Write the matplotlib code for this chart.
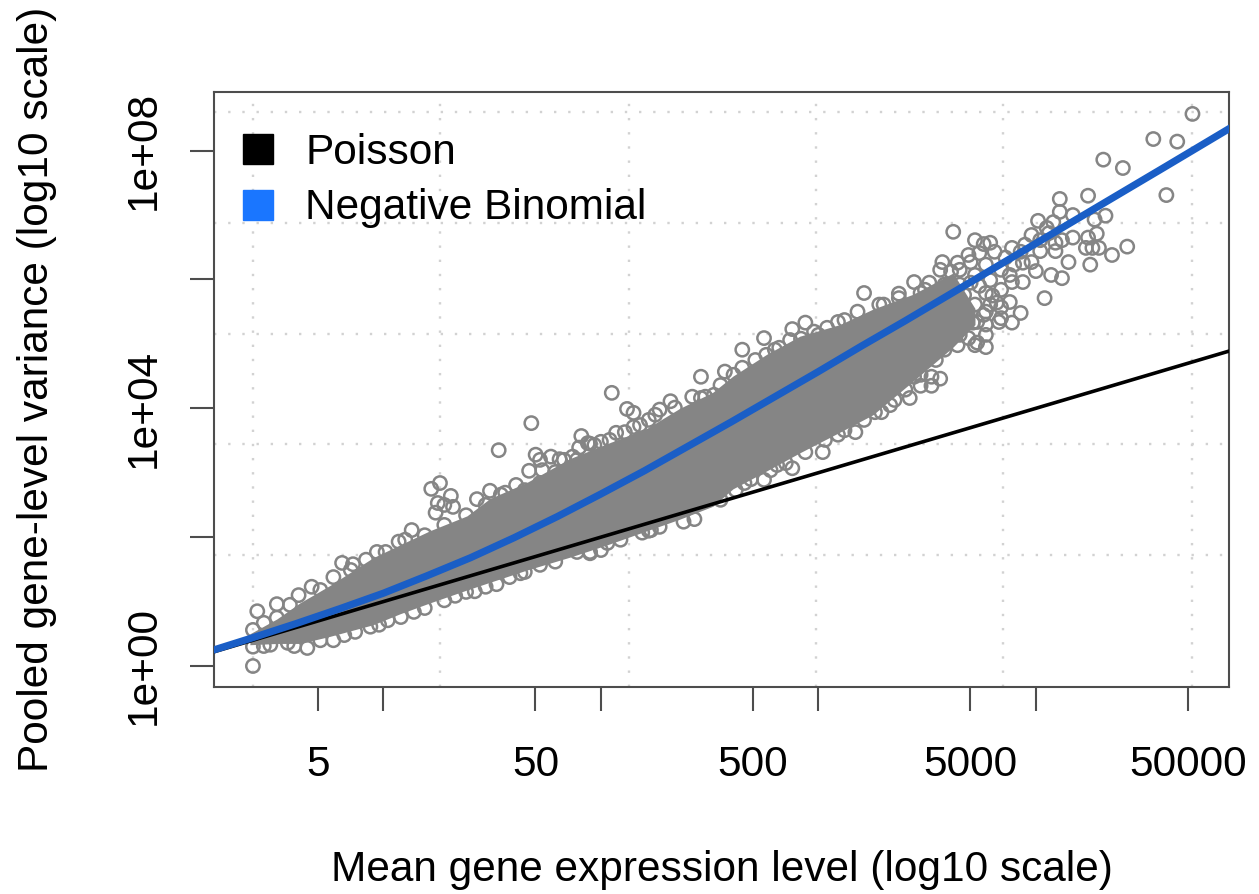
import numpy as np
import matplotlib
matplotlib.use("Agg")
import matplotlib.pyplot as plt
from matplotlib.lines import Line2D
from matplotlib.ticker import NullFormatter

plt.rcParams['font.family'] = ['Liberation Sans', 'DejaVu Sans']

# all values are log10 of the axis units
poisson_x = [0.22, 1.0, 2.0, 3.0, 4.0, 4.89]
poisson_y = [0.22, 1.0, 2.0, 3.0, 4.0, 4.89]

nb_x = [0.221, 0.4, 0.6, 0.8, 1.0, 1.2, 1.4, 1.6, 1.8, 2.0, 2.2, 2.4, 2.6, 2.8, 3.0, 3.2, 3.4, 3.6, 3.8, 4.0, 4.2, 4.4, 4.6, 4.888]
nb_y = [0.25, 0.44, 0.66, 0.89, 1.13, 1.40, 1.68, 1.99, 2.32, 2.67, 3.03, 3.41, 3.79, 4.18, 4.57, 4.97, 5.36, 5.76, 6.16, 6.56, 6.96, 7.36, 7.76, 8.34]

# solid part of the cloud, where the circles merge together
core_x = [0.386, 0.510, 0.616, 0.754, 0.952, 1.076, 1.214, 1.384, 1.490, 1.660, 1.858, 2.028, 2.212, 2.363, 2.515, 2.607, 2.763, 2.915, 3.099, 3.251, 3.435, 3.619, 3.72]
core_hi = [0.50, 0.73, 0.98, 1.25, 1.68, 1.88, 2.10, 2.33, 2.60, 2.85, 3.22, 3.45, 3.69, 4.00, 4.25, 4.50, 4.84, 5.12, 5.30, 5.54, 5.77, 6.10, 5.55]
core_lo = [0.33, 0.35, 0.35, 0.46, 0.64, 0.81, 0.98, 1.18, 1.30, 1.49, 1.69, 1.88, 2.10, 2.28, 2.48, 2.75, 3.03, 3.31, 3.63, 3.90, 4.42, 4.95, 5.30]

# single genes that can be told apart around the edge of the cloud
genes_x = [4.72, 4.54, 4.65, 4.31, 4.40, 4.60, 4.24, 4.11, 4.11, 4.17, 4.32, 4.27, 4.01, 3.62, 4.08, 3.98, 4.28, 4.17, 4.24, 4.42,
           4.35, 4.23, 4.29, 4.26, 4.02, 4.09, 4.15, 4.25, 3.94, 3.98, 4.00, 4.07, 4.12, 4.04, 3.93, 3.89, 3.83, 3.77, 3.77, 3.72,
           3.79, 3.76, 3.69, 3.89, 3.74, 3.57, 3.64, 3.94, 3.89, 3.84, 3.88, 3.77, 3.84, 3.71, 3.65, 3.61, 4.06, 4.12, 4.09, 4.05,
           3.21, 3.37, 3.44, 3.47, 3.28, 2.75, 2.65, 2.88, 2.94, 2.92, 3.00, 3.04, 3.09, 2.82, 2.76, 2.65, 2.61, 2.46, 2.48, 2.52,
           3.02, 2.88, 2.75, 2.69, 2.81, 3.21, 3.17, 3.09, 3.29, 3.42, 3.56, 3.52, 3.47, 3.52, 3.44, 3.35, 3.73, 3.69, 3.64, 3.73,
           3.68, 3.77, 3.82, 2.05, 1.68, 1.53, 2.12, 2.15, 2.22, 2.15, 2.32, 2.27, 2.42, 1.91, 1.95, 2.00, 2.07, 1.90, 1.70, 1.72,
           1.77, 1.81, 1.87, 1.67, 1.73, 1.61, 1.49, 1.43, 1.26, 1.22, 1.31, 1.32, 1.25, 1.24, 1.28, 1.13, 1.07, 1.56, 2.43, 2.38,
           2.22, 2.19, 2.03, 1.95, 1.89, 0.40, 0.42, 0.51, 0.40, 0.45, 0.61, 0.67, 0.40, 0.45, 0.56, 0.65, 0.77, 0.94, 1.02, 1.14,
           1.38, 1.42, 1.47, 1.52, 1.58, 1.65, 1.72, 1.95, 2.23, 0.77, 0.81, 0.86, 0.97, 0.51, 1.89, 1.94]
genes_y = [8.57, 8.18, 8.14, 7.86, 7.73, 7.31, 7.30, 7.25, 7.05, 7.00, 6.99, 6.93, 6.91, 6.74, 6.89, 6.69, 6.71, 6.65, 6.65, 6.51,
           6.38, 6.49, 6.49, 6.49, 6.44, 6.44, 6.27, 6.23, 6.26, 6.27, 6.13, 6.07, 6.02, 5.71, 5.48, 5.33, 5.34, 5.14, 4.95, 4.98,
           6.57, 6.55, 6.38, 6.49, 6.41, 6.27, 6.26, 5.96, 5.96, 5.84, 5.65, 5.79, 5.57, 5.33, 5.92, 6.12, 6.72, 6.61, 6.57, 6.80,
           5.79, 5.78, 5.96, 5.79, 5.61, 5.09, 4.91, 5.23, 5.33, 5.08, 5.14, 5.25, 5.34, 4.94, 4.83, 4.63, 4.52, 4.49, 4.18, 4.21,
           3.32, 3.07, 2.89, 2.90, 3.12, 3.82, 3.63, 3.59, 3.94, 4.16, 4.46, 4.35, 4.35, 4.49, 4.49, 4.13, 5.02, 5.09, 4.98, 5.34,
           5.33, 5.50, 5.64, 4.24, 3.77, 3.35, 3.99, 3.93, 3.82, 3.71, 4.11, 3.98, 4.18, 3.57, 3.45, 3.48, 3.62, 3.39, 3.28, 3.20,
           3.25, 3.21, 3.25, 3.03, 3.04, 2.81, 2.72, 2.59, 2.84, 2.75, 2.64, 2.47, 2.53, 2.38, 2.50, 2.11, 1.93, 2.69, 2.28, 2.24,
           2.10, 2.07, 1.91, 1.77, 1.77, 0.00, 0.85, 0.96, 0.56, 0.67, 1.10, 1.23, 0.30, 0.31, 0.36, 0.28, 0.40, 0.61, 0.71, 0.84,
           1.15, 1.16, 1.23, 1.27, 1.38, 1.46, 1.57, 1.75, 2.11, 1.38, 1.60, 1.58, 1.77, 0.75, 3.20, 3.46]

# crowded genes at the high end, where the cloud breaks up
crowd_x = [3.65, 3.70, 3.72, 3.77, 3.79, 3.84, 3.86, 3.90, 3.67, 3.72, 3.79, 3.84, 3.77, 3.67, 3.63, 3.58, 3.65, 3.93, 3.88, 3.81, 3.72, 3.95, 4.02, 3.58, 3.51, 3.56, 3.74, 3.70, 3.76, 3.80]
crowd_y = [6.15, 6.27, 6.07, 6.23, 5.99, 6.15, 6.34, 6.23, 5.76, 5.61, 5.61, 5.40, 5.30, 5.53, 5.30, 5.06, 5.14, 6.43, 6.07, 6.43, 6.61, 6.54, 6.61, 5.92, 5.95, 6.15, 5.90, 5.95, 5.45, 5.75]

# genes sitting on the upper rim of the cloud
rim_hi_x = [0.57, 0.71, 0.85, 0.92, 1.01, 1.10, 1.19, 1.28, 1.38, 1.47, 1.54, 1.65, 1.72, 1.79, 1.83, 1.97, 2.04, 2.11, 2.18, 2.25, 2.34, 2.46, 2.55, 2.57, 2.71, 2.80, 2.87, 2.98, 3.12, 3.18, 3.30, 3.37, 3.49]
rim_hi_y = [0.95, 1.18, 1.49, 1.65, 1.77, 1.96, 2.03, 2.19, 2.34, 2.50, 2.66, 2.73, 2.84, 3.01, 3.20, 3.43, 3.51, 3.63, 3.74, 3.90, 4.01, 4.16, 4.36, 4.57, 4.75, 4.91, 5.06, 5.19, 5.37, 5.50, 5.61, 5.71, 5.84]

# genes sitting on the lower rim of the cloud
rim_lo_x = [0.48, 0.59, 0.71, 0.82, 0.87, 0.98, 1.08, 1.19, 1.28, 1.33, 1.63, 1.79, 2.00, 2.09, 2.27, 2.55, 2.62, 2.66, 2.78, 2.85, 2.94, 3.03, 3.12, 3.26, 3.33, 3.40, 3.47, 3.54, 3.58]
rim_lo_y = [0.33, 0.31, 0.40, 0.48, 0.53, 0.64, 0.76, 0.90, 1.02, 1.09, 1.44, 1.62, 1.80, 1.96, 2.16, 2.58, 2.73, 2.84, 3.04, 3.15, 3.32, 3.51, 3.66, 3.94, 4.05, 4.29, 4.52, 4.75, 4.91]

x_ticks = [5, 10, 50, 100, 500, 1000, 5000, 10000, 50000]
x_tick_labels = ['5', '', '50', '', '500', '', '5000', '', '50000']
y_ticks = [1, 1e2, 1e4, 1e6, 1e8]
y_tick_labels = ['1e+00', '', '1e+04', '', '1e+08']
grid_x = [0.40, 1.26, 2.13, 2.99, 3.85, 4.72]
grid_y = [0.0, 1.72, 3.44, 5.16, 6.88, 8.60]

GRAY = '#858585'
BLUE_LINE = '#1a5ec6'
BLUE_KEY = '#1a76ff'
FRAME = '#4d4d4d'
W, H = 1259, 894

fig = plt.figure(figsize=(W / 100, H / 100), dpi=100)
ax = fig.add_axes([214 / W, 1 - 687 / H, (1229 - 214) / W, (687 - 92) / H])
ax.set_xscale('log')
ax.set_yscale('log')

ax.fill_between(10.0 ** np.array(core_x), 10.0 ** np.array(core_lo), 10.0 ** np.array(core_hi), color=GRAY, lw=0, zorder=2)
all_x = np.array(genes_x + crowd_x + rim_hi_x + rim_lo_x)
all_y = np.array(genes_y + crowd_y + rim_hi_y + rim_lo_y)
ax.scatter(10.0 ** all_x, 10.0 ** all_y, s=92, facecolors='none', edgecolors=GRAY, linewidths=1.8, zorder=3)
ax.plot(10.0 ** np.array(poisson_x), 10.0 ** np.array(poisson_y), color='black', lw=2.6, zorder=4)
ax.plot(10.0 ** np.array(nb_x), 10.0 ** np.array(nb_y), color=BLUE_LINE, lw=5.2, zorder=5)

ax.set_xlim(10 ** 0.221, 10 ** 4.888)
ax.set_ylim(10 ** -0.326, 10 ** 8.91)

ax.set_xticks(x_ticks)
ax.set_xticklabels(x_tick_labels)
ax.set_yticks(y_ticks)
ax.set_yticklabels(y_tick_labels, rotation=90, va='center')
ax.set_xticks(10.0 ** np.array(grid_x), minor=True)
ax.set_yticks(10.0 ** np.array(grid_y), minor=True)
ax.xaxis.set_minor_formatter(NullFormatter())
ax.yaxis.set_minor_formatter(NullFormatter())
ax.tick_params(which='minor', length=0)
ax.tick_params(which='major', length=17, width=1.5, color=FRAME, labelsize=30.5)
ax.tick_params(axis='x', which='major', pad=25)
ax.tick_params(axis='y', which='major', pad=19)
ax.grid(which='minor', color='#d2d2d2', lw=1.7, ls=(0, (1, 5)), zorder=0)
ax.set_axisbelow(True)
for s in ax.spines.values():
    s.set_color(FRAME)
    s.set_linewidth(1.5)

fig.text(722 / W, 1 - 870 / H, 'Mean gene expression level (log10 scale)', fontsize=30.5, ha='center', va='center')
fig.text(37 / W, 1 - 389 / H, 'Pooled gene-level variance (log10 scale)', fontsize=30.5, rotation=90, ha='center', va='center')

handles = [Line2D([], [], marker='s', ls='none', ms=21.5, color='black'),
           Line2D([], [], marker='s', ls='none', ms=21.5, color=BLUE_KEY)]
ax.legend(handles, ['Poisson', 'Negative Binomial'], loc='upper left', bbox_to_anchor=(-0.023, 1.002), frameon=False,
          fontsize=30.5, labelspacing=0.36, handletextpad=0.5, handlelength=1.2, borderaxespad=0.6)

fig.savefig('out.png', dpi=100)
